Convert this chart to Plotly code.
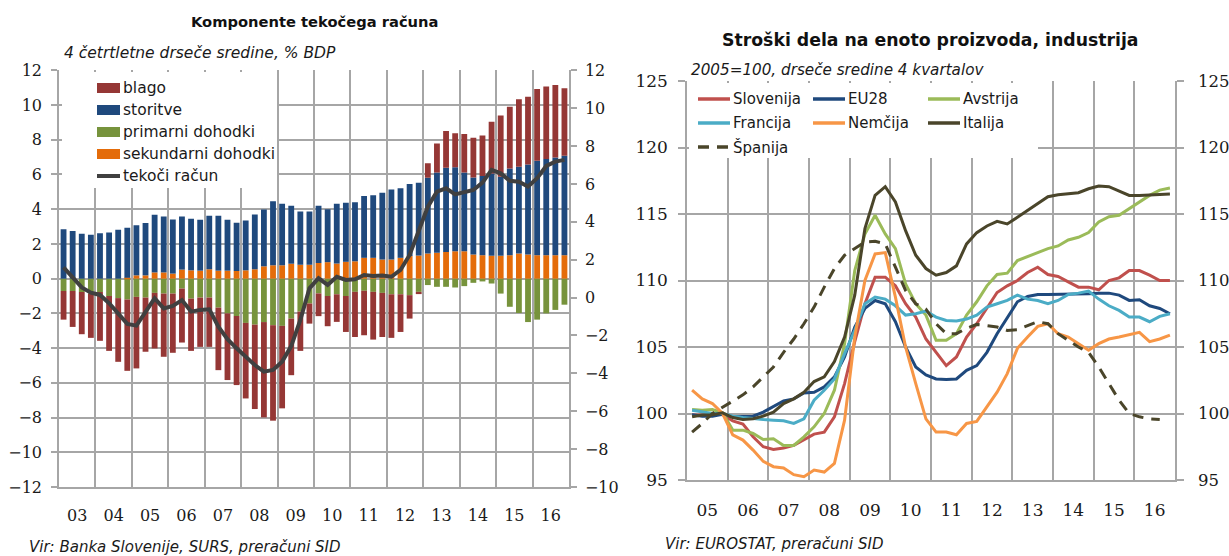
import plotly.graph_objects as go

# ---------------- data: left chart (quarterly 2003Q1-2016Q4) ----------------
years_left = list(range(2003, 2017))
year_labels_left = ["03", "04", "05", "06", "07", "08", "09", "10", "11", "12", "13", "14", "15", "16"]

blago = [-1.65, -2.07, -2.43, -2.55,
         -2.81, -3.16, -3.67, -4.11,
         -4.12, -3.12, -3.20, -3.64,
         -3.41, -3.11, -3.01, -2.84,
         -2.84, -3.60, -3.84, -3.98,
         -4.35, -4.86, -5.49, -5.50,
         -4.75, -3.26, -2.26, -1.16,
         -1.31, -1.74, -1.59, -2.07,
         -2.60, -2.56, -2.75, -2.54,
         -2.51, -2.17, -1.35, -0.13,
         0.83, 1.67, 2.11, 1.96,
         2.21, 2.29, 2.34, 2.98,
         3.52, 3.55, 3.88, 3.90,
         4.13, 4.17, 4.17, 3.88]
storitve = [2.84, 2.74, 2.59, 2.53,
            2.62, 2.66, 2.82, 2.88,
            2.88, 3.01, 3.32, 3.22,
            3.12, 3.06, 2.97, 2.93,
            3.08, 3.16, 2.93, 2.78,
            2.87, 3.16, 3.27, 3.69,
            3.54, 3.34, 3.07, 3.07,
            3.30, 3.05, 3.45, 3.40,
            3.40, 3.56, 3.61, 3.85,
            4.04, 4.00, 4.15, 4.19,
            4.36, 4.63, 4.86, 4.83,
            4.54, 4.44, 4.56, 4.74,
            4.55, 5.00, 5.00, 5.19,
            5.44, 5.54, 5.63, 5.73]
primarni = [-0.71, -0.71, -0.77, -0.86,
            -0.77, -1.00, -1.12, -1.20,
            -1.05, -1.09, -0.82, -0.86,
            -0.86, -0.57, -1.15, -1.09,
            -1.09, -1.67, -2.00, -2.15,
            -2.55, -2.65, -2.50, -2.68,
            -2.72, -2.30, -1.90, -1.43,
            -0.85, -1.00, -0.90, -1.00,
            -0.76, -0.70, -0.76, -0.82,
            -0.90, -0.90, -0.95, -0.76,
            -0.37, -0.47, -0.47, -0.51,
            -0.43, -0.24, -0.16, -0.28,
            -0.86, -1.62, -1.98, -2.50,
            -2.36, -2.00, -1.80, -1.50]
sekundarni = [0.00, 0.00, 0.00, 0.00,
              0.00, 0.00, 0.00, 0.05,
              0.19, 0.19, 0.36, 0.36,
              0.29, 0.52, 0.48, 0.46,
              0.54, 0.46, 0.46, 0.44,
              0.48, 0.54, 0.71, 0.77,
              0.77, 0.86, 0.80, 0.80,
              0.90, 0.95, 0.87, 0.97,
              1.00, 1.20, 1.20, 1.10,
              1.10, 1.20, 1.30, 1.33,
              1.45, 1.49, 1.53, 1.58,
              1.58, 1.39, 1.35, 1.32,
              1.32, 1.35, 1.45, 1.39,
              1.35, 1.35, 1.35, 1.35]
tekoci = [1.60, 1.10, 0.54, 0.26,
          0.14, -0.30, -0.83, -1.39,
          -1.48, -0.74, -0.04, -0.57,
          -0.44, -0.13, -0.74, -0.65,
          -0.62, -1.54, -2.20, -2.68,
          -3.12, -3.56, -3.91, -3.82,
          -3.38, -2.56, -1.18, 0.49,
          1.02, 0.67, 1.10, 0.93,
          0.97, 1.19, 1.14, 1.16,
          1.10, 1.46, 2.25, 3.57,
          4.80, 5.59, 5.77, 5.45,
          5.54, 5.68, 6.07, 6.74,
          6.56, 6.17, 6.12, 5.86,
          6.30, 6.95, 7.18, 7.27]

# ---------------- data: right chart (quarterly 2005Q1-2016Q4) ----------------
years_right = list(range(2005, 2017))
year_labels_right = ["05", "06", "07", "08", "09", "10", "11", "12", "13", "14", "15", "16"]

slovenija = [99.88, 99.88, 100.0, 99.9, 99.45, 99.2, 98.25, 97.5, 97.3, 97.4, 97.6, 98.0,
             98.45, 98.6, 99.75, 102.25, 105.4, 108.25, 110.25, 110.25, 109.6, 108.25, 107.25, 105.6,
             104.6, 103.6, 104.25, 105.75, 106.75, 107.9, 109.1, 109.6, 110.0, 110.6, 111.0, 110.45,
             110.3, 109.9, 109.5, 109.5, 109.3, 110.0, 110.2, 110.75, 110.75, 110.4, 110.0, 110.0]
eu28 = [99.9, 99.8, 99.8, 99.95, 99.75, 99.75, 99.8, 100.1, 100.5, 100.95, 101.1, 101.55,
        101.6, 102.0, 102.75, 104.25, 106.5, 107.9, 108.5, 108.25, 106.9, 105.0, 103.5, 102.9,
        102.6, 102.55, 102.6, 103.25, 103.6, 104.6, 106.0, 107.25, 108.4, 108.8, 108.95, 108.95,
        108.95, 108.95, 109.0, 109.0, 109.05, 109.05, 108.9, 108.5, 108.55, 108.1, 107.9, 107.5]
avstrija = [100.3, 100.25, 100.3, 100.05, 98.75, 98.75, 98.5, 98.05, 98.1, 97.6, 97.6, 98.25,
            99.0, 100.0, 101.75, 105.25, 110.75, 113.5, 114.9, 113.5, 112.4, 109.75, 108.25, 107.4,
            105.5, 105.5, 106.0, 107.4, 108.4, 109.6, 110.45, 110.55, 111.5, 111.8, 112.1, 112.4,
            112.6, 113.05, 113.25, 113.6, 114.4, 114.8, 114.9, 115.4, 115.9, 116.4, 116.8, 116.95]
francija = [100.25, 100.1, 100.0, 100.0, 99.8, 99.7, 99.6, 99.55, 99.5, 99.45, 99.25, 99.6,
            101.0, 101.75, 102.6, 104.5, 106.25, 108.25, 108.75, 108.6, 108.1, 107.4, 107.5, 107.7,
            107.25, 107.0, 106.95, 107.1, 107.4, 108.0, 108.25, 108.5, 108.9, 108.6, 108.5, 108.25,
            108.5, 108.95, 109.05, 109.2, 108.6, 108.1, 107.75, 107.25, 107.25, 106.9, 107.3, 107.5]
nemcija = [101.75, 101.1, 100.75, 100.0, 98.4, 98.0, 97.25, 96.4, 96.0, 95.9, 95.4, 95.25,
           95.75, 95.6, 96.25, 99.5, 105.75, 110.0, 112.0, 112.1, 108.75, 105.0, 102.25, 99.6,
           98.6, 98.6, 98.4, 99.25, 99.4, 100.5, 101.6, 103.0, 104.9, 105.75, 106.55, 106.75,
           106.0, 105.75, 105.25, 104.75, 105.25, 105.6, 105.75, 105.9, 106.1, 105.4, 105.6, 105.9]
italija = [99.75, 99.88, 99.9, 100.05, 99.7, 99.55, 99.6, 99.8, 100.1, 100.75, 101.1, 101.6,
           102.4, 102.75, 103.9, 105.75, 108.9, 113.9, 116.4, 117.05, 115.9, 113.75, 111.9, 110.9,
           110.4, 110.6, 111.1, 112.75, 113.6, 114.1, 114.45, 114.25, 114.75, 115.25, 115.75, 116.3,
           116.45, 116.55, 116.6, 116.9, 117.1, 117.05, 116.75, 116.4, 116.4, 116.45, 116.5, 116.5]
spanija = [98.6, 99.25, 100.0, 100.45, 100.9, 101.4, 102.0, 102.75, 103.5, 104.6, 105.6, 106.75,
           108.0, 109.5, 110.9, 111.9, 112.4, 112.9, 112.95, 112.75, 111.0, 109.25, 108.25, 107.85,
           106.75, 106.0, 106.0, 106.4, 106.7, 106.6, 106.5, 106.25, 106.3, 106.6, 106.9, 106.75,
           106.0, 105.5, 105.0, 104.6, 103.5, 102.25, 101.0, 100.0, 99.75, 99.6, 99.55]


def quarter_positions(years, n):
    pos = []
    for y in years:
        for q in range(4):
            pos.append(y + (q + 0.5) / 4.0)
    return pos[:n]


x_left = quarter_positions(years_left, len(tekoci))
x_right = quarter_positions(years_right, 48)

# ---------------- styling ----------------
W, H = 1229, 556
GRID = "#a6a6a6"
SANS = "DejaVu Sans"
SERIF = "DejaVu Serif"
TXT = "#1a1a1a"

C_BLAGO = "#953735"
C_STOR = "#1f497d"
C_PRIM = "#77933c"
C_SEK = "#e46c0a"
C_LINE = "#404040"

C_SLO = "#c0504d"
C_EU = "#1f497d"
C_AVT = "#9bbb59"
C_FRA = "#4bacc6"
C_NEM = "#f79646"
C_ITA = "#4a452a"


def px(x):
    return x / W


def py(y):
    return 1 - y / H


fig = go.Figure()

BW = 0.16
fig.add_trace(go.Bar(x=x_left, y=primarni, name="primarni dohodki", marker_color=C_PRIM,
                     width=BW, xaxis="x", yaxis="y", marker_line_width=0))
fig.add_trace(go.Bar(x=x_left, y=sekundarni, name="sekundarni dohodki", marker_color=C_SEK,
                     width=BW, xaxis="x", yaxis="y", marker_line_width=0))
fig.add_trace(go.Bar(x=x_left, y=storitve, name="storitve", marker_color=C_STOR,
                     width=BW, xaxis="x", yaxis="y", marker_line_width=0))
fig.add_trace(go.Bar(x=x_left, y=blago, name="blago", marker_color=C_BLAGO,
                     width=BW, xaxis="x", yaxis="y", marker_line_width=0))
fig.add_trace(go.Scatter(x=x_left, y=tekoci, name="tekoči račun", mode="lines",
                         line=dict(color=C_LINE, width=4), xaxis="x", yaxis="y2"))

LW = 3
right_series = [
    ("Slovenija", slovenija, C_SLO, "solid"),
    ("EU28", eu28, C_EU, "solid"),
    ("Avstrija", avstrija, C_AVT, "solid"),
    ("Francija", francija, C_FRA, "solid"),
    ("Nemčija", nemcija, C_NEM, "solid"),
    ("Italija", italija, C_ITA, "solid"),
]
for name, vals, col, dash in right_series:
    fig.add_trace(go.Scatter(x=x_right[:len(vals)], y=vals, name=name, mode="lines",
                             line=dict(color=col, width=LW, dash=dash), xaxis="x2", yaxis="y3"))
fig.add_trace(go.Scatter(x=x_right[:len(spanija)], y=spanija, name="Španija", mode="lines",
                         line=dict(color=C_ITA, width=LW, dash="11px,8px"), xaxis="x2", yaxis="y3"))
# invisible helper so the mirrored right axis is drawn
fig.add_trace(go.Scatter(x=x_right[:len(italija)], y=italija, mode="lines", opacity=0,
                         line=dict(width=0), hoverinfo="skip", showlegend=False,
                         xaxis="x2", yaxis="y4"))

# ---------------- axes ----------------
L_DOM_X = [px(59), px(569)]
L_DOM_Y = [py(487), py(70.3)]
R_DOM_X = [px(687), px(1175)]
R_DOM_Y = [py(480), py(81)]

tickfont_l = dict(family=SERIF, size=16, color=TXT)
tickfont_r = dict(family=SERIF, size=17, color=TXT)

fig.update_layout(
    template=None,
    width=W, height=H,
    margin=dict(l=0, r=0, t=0, b=0, pad=0, autoexpand=False),
    paper_bgcolor="white", plot_bgcolor="white",
    barmode="relative",
    showlegend=False,
    xaxis=dict(domain=L_DOM_X, anchor="y", range=[2003, 2017], automargin=False,
               tickmode="array", tickvals=[y + 0.5 for y in years_left], ticktext=year_labels_left,
               ticks="", showgrid=False, zeroline=False,
               showline=True, linecolor=GRID, linewidth=1.5,
               tickfont=tickfont_l, ticklabelstandoff=13,
               minor=dict(tickmode="array", tickvals=years_left + [2017], showgrid=True,
                          gridcolor=GRID, gridwidth=1.5, ticks="")),
    yaxis=dict(domain=L_DOM_Y, anchor="x", range=[-12, 12], dtick=2, tick0=0, automargin=False,
               showgrid=True, gridcolor=GRID, gridwidth=1.5, zeroline=False,
               showline=True, linecolor=GRID, linewidth=1.5,
               ticks="outside", ticklen=6, tickcolor=GRID, tickwidth=1.5,
               tickfont=tickfont_l, ticklabelstandoff=6),
    yaxis2=dict(overlaying="y", side="right", anchor="x", range=[-10, 12], dtick=2, tick0=0,
                automargin=False, showgrid=False, zeroline=False,
                showline=True, linecolor=GRID, linewidth=1.5,
                ticks="outside", ticklen=6, tickcolor=GRID, tickwidth=1.5,
                tickfont=tickfont_l, ticklabelstandoff=5),
    xaxis2=dict(domain=R_DOM_X, anchor="y3", range=[2005, 2017], automargin=False,
                tickmode="array", tickvals=[y + 0.5 for y in years_right], ticktext=year_labels_right,
                ticks="", showgrid=False, zeroline=False,
                showline=True, linecolor=GRID, linewidth=1.5,
                tickfont=tickfont_r, ticklabelstandoff=14,
                minor=dict(tickmode="array", tickvals=years_right + [2017], showgrid=True,
                           gridcolor=GRID, gridwidth=1.5, ticks="")),
    yaxis3=dict(domain=R_DOM_Y, anchor="x2", range=[95, 125], dtick=5, tick0=95, automargin=False,
                showgrid=True, gridcolor=GRID, gridwidth=1.5, zeroline=False,
                showline=True, linecolor=GRID, linewidth=1.5,
                ticks="outside", ticklen=7, tickcolor=GRID, tickwidth=1.5,
                tickfont=tickfont_r, ticklabelstandoff=7),
    yaxis4=dict(overlaying="y3", side="right", anchor="x2", range=[95, 125], dtick=5, tick0=95,
                automargin=False, showgrid=False, zeroline=False,
                showline=True, linecolor=GRID, linewidth=1.5,
                ticks="outside", ticklen=7, tickcolor=GRID, tickwidth=1.5,
                tickfont=dict(family=SERIF, size=16.5, color=TXT), ticklabelstandoff=11),
)

# ---------------- titles / notes ----------------
ann = []
ann.append(dict(text="<b>Komponente tekočega računa</b>", x=px(314), y=py(22), xref="paper", yref="paper",
                showarrow=False, xanchor="center", yanchor="middle",
                font=dict(family=SANS, size=14.7, color="#111111")))
ann.append(dict(text="<i>4 četrtletne drseče sredine, % BDP</i>", x=px(62), y=py(53), xref="paper", yref="paper",
                showarrow=False, xanchor="left", yanchor="middle",
                font=dict(family=SANS, size=15.5, color=TXT)))
ann.append(dict(text="<b>Stroški dela na enoto proizvoda, industrija</b>", x=px(931), y=py(40), xref="paper",
                yref="paper", showarrow=False, xanchor="center", yanchor="middle",
                font=dict(family=SANS, size=17.3, color="#111111")))
ann.append(dict(text="<i>2005=100, drseče sredine 4 kvartalov</i>", x=px(689), y=py(70), xref="paper",
                yref="paper", showarrow=False, xanchor="left", yanchor="middle",
                font=dict(family=SANS, size=15.2, color=TXT)))
ann.append(dict(text="<i>Vir: Banka Slovenije, SURS, preračuni SID</i>", x=px(27), y=py(547), xref="paper",
                yref="paper", showarrow=False, xanchor="left", yanchor="middle",
                font=dict(family=SANS, size=15, color=TXT)))
ann.append(dict(text="<i>Vir: EUROSTAT, preračuni SID</i>", x=px(663), y=py(544), xref="paper",
                yref="paper", showarrow=False, xanchor="left", yanchor="middle",
                font=dict(family=SANS, size=15, color=TXT)))

shapes = []
# legend boxes (white, hiding grid)
shapes.append(dict(type="rect", xref="paper", yref="paper", x0=px(62), x1=px(277), y0=py(188), y1=py(72),
                   fillcolor="white", line=dict(width=0), layer="above"))
shapes.append(dict(type="rect", xref="paper", yref="paper", x0=px(689), x1=px(1038), y0=py(158), y1=py(83),
                   fillcolor="white", line=dict(width=0), layer="above"))

# left legend
left_leg = [("blago", C_BLAGO, "bar"), ("storitve", C_STOR, "bar"), ("primarni dohodki", C_PRIM, "bar"),
            ("sekundarni dohodki", C_SEK, "bar"), ("tekoči račun", C_LINE, "line")]
for i, (name, col, kind) in enumerate(left_leg):
    yc = 88 + i * 22
    if kind == "bar":
        shapes.append(dict(type="rect", xref="paper", yref="paper", x0=px(97), x1=px(120),
                           y0=py(yc + 5), y1=py(yc - 5), fillcolor=col, line=dict(width=0), layer="above"))
    else:
        shapes.append(dict(type="line", xref="paper", yref="paper", x0=px(97), x1=px(120),
                           y0=py(yc), y1=py(yc), line=dict(color=col, width=4), layer="above"))
    ann.append(dict(text=name, x=px(121), y=py(yc), xref="paper", yref="paper", showarrow=False,
                    xanchor="left", yanchor="middle", font=dict(family=SANS, size=15.5, color=TXT)))

# right legend
right_leg = [("Slovenija", C_SLO, "solid", 698, 99), ("EU28", C_EU, "solid", 813, 99),
             ("Avstrija", C_AVT, "solid", 928, 99), ("Francija", C_FRA, "solid", 698, 123),
             ("Nemčija", C_NEM, "solid", 813, 123), ("Italija", C_ITA, "solid", 928, 123),
             ("Španija", C_ITA, "dash", 698, 147)]
for name, col, dash, x0, yc in right_leg:
    if dash == "solid":
        shapes.append(dict(type="line", xref="paper", yref="paper", x0=px(x0), x1=px(x0 + 32),
                           y0=py(yc), y1=py(yc), line=dict(color=col, width=3.5), layer="above"))
    else:
        shapes.append(dict(type="line", xref="paper", yref="paper", x0=px(x0), x1=px(x0 + 32),
                           y0=py(yc), y1=py(yc), line=dict(color=col, width=3.5, dash="11px,8px"),
                           layer="above"))
    ann.append(dict(text=name, x=px(x0 + 33), y=py(yc), xref="paper", yref="paper", showarrow=False,
                    xanchor="left", yanchor="middle", font=dict(family=SANS, size=15, color=TXT)))

fig.update_layout(annotations=ann, shapes=shapes)

fig.write_html("out.html", config={"displayModeBar": False},
               post_script="document.body.style.margin='0px';")
